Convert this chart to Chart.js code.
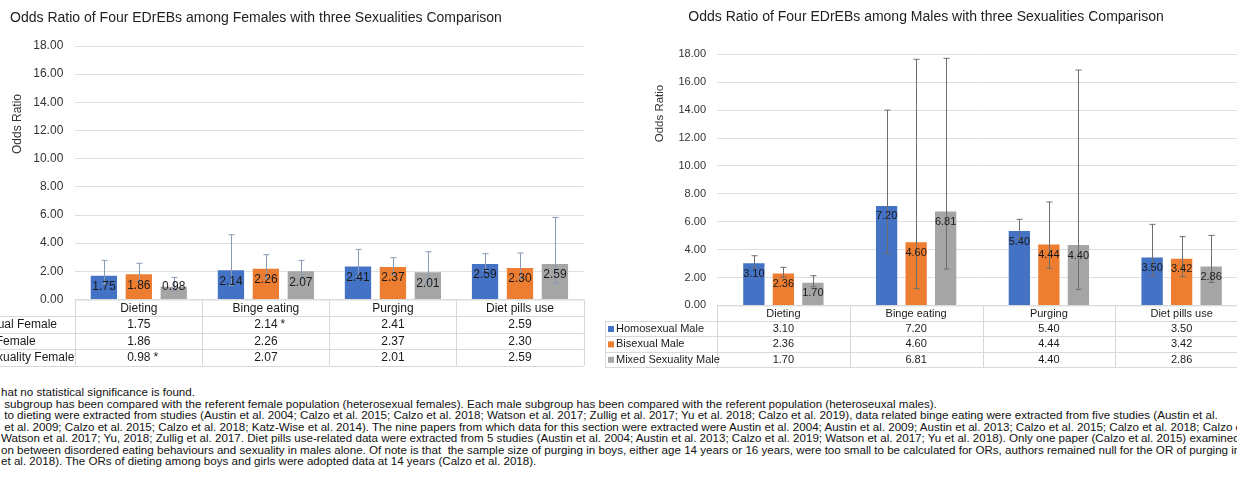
<!DOCTYPE html>
<html>
<head>
<meta charset="utf-8">
<script src="https://cdn.jsdelivr.net/npm/chart.js@4/dist/chart.umd.min.js"></script>
<style>
  html, body { margin: 0; padding: 0; background: #fff; }
  body { width: 1237px; height: 479px; overflow: hidden; position: relative; }
  canvas { position: absolute; top: 0; }
  #femaleChart { left: -80px; }
  #maleChart { left: 600px; }
  #notes {
    position: absolute; left: 1px; top: 386px; width: 1400px;
    font: 11.6px "Liberation Sans", Arial, sans-serif; line-height: 11.5px;
    color: #111; white-space: pre;
  }
</style>
</head>
<body>
<canvas id="femaleChart" width="680" height="380"></canvas>
<canvas id="maleChart" width="660" height="380"></canvas>
<div id="notes">hat no statistical significance is found.
 subgroup has been compared with the referent female population (heterosexual females). Each male subgroup has been compared with the referent population (heteroseuxal males).
 to dieting were extracted from studies (Austin et al. 2004; Calzo et al. 2015; Calzo et al. 2018; Watson et al. 2017; Zullig et al. 2017; Yu et al. 2018; Calzo et al. 2019), data related binge eating were extracted from five studies (Austin et al.
 et al. 2009; Calzo et al. 2015; Calzo et al. 2018; Katz-Wise et al. 2014). The nine papers from which data for this section were extracted were Austin et al. 2004; Austin et al. 2009; Austin et al. 2013; Calzo et al. 2015; Calzo et al. 2018; Calzo et al. 2019;
Watson et al. 2017; Yu, 2018; Zullig et al. 2017. Diet pills use-related data were extracted from 5 studies (Austin et al. 2004; Austin et al. 2013; Calzo et al. 2019; Watson et al. 2017; Yu et al. 2018). Only one paper (Calzo et al. 2015) examined the
on between disordered eating behaviours and sexuality in males alone. Of note is that  the sample size of purging in boys, either age 14 years or 16 years, were too small to be calculated for ORs, authors remained null for the OR of purging in boys (Calzo
et al. 2018). The ORs of dieting among boys and girls were adopted data at 14 years (Calzo et al. 2018).</div>
<script>
const FONT = '"Liberation Sans", Arial, sans-serif';
Chart.defaults.font.family = FONT;
Chart.defaults.color = '#333';

// categories and tick labels
const categories = ['Dieting', 'Binge eating', 'Purging', 'Diet pills use'];
const yTicks = [0, 2, 4, 6, 8, 10, 12, 14, 16, 18];

// females
const femaleNames = ['Homosexual Female', 'Bisexual Female', 'Mixed Sexuality Female'];
const femaleHomo = [1.75, 2.14, 2.41, 2.59];
const femaleBi = [1.86, 2.26, 2.37, 2.30];
const femaleMixed = [0.98, 2.07, 2.01, 2.59];
const femaleHomoHi = [2.78, 4.60, 3.56, 3.25];
const femaleHomoLo = [1.10, 1.00, 1.63, 2.06];
const femaleBiHi = [2.57, 3.18, 2.97, 3.30];
const femaleBiLo = [1.30, 1.50, 1.75, 1.50];
const femaleMixedHi = [1.57, 2.78, 3.39, 5.83];
const femaleMixedLo = [0.61, 1.45, 1.19, 1.15];
const femaleHomoMark = ['', '*', '', ''];
const femaleBiMark = ['', '', '', ''];
const femaleMixedMark = ['*', '', '', ''];

// males
const maleNames = ['Homosexual Male', 'Bisexual Male', 'Mixed Sexuality Male'];
const maleHomo = [3.10, 7.20, 5.40, 3.50];
const maleBi = [2.36, 4.60, 4.44, 3.42];
const maleMixed = [1.70, 6.81, 4.40, 2.86];
const maleHomoHi = [3.56, 14.00, 6.17, 5.81];
const maleHomoLo = [2.70, 3.73, 4.72, 2.11];
const maleBiHi = [2.73, 17.64, 7.41, 4.93];
const maleBiLo = [2.01, 1.20, 2.66, 2.06];
const maleMixedHi = [2.13, 17.71, 16.87, 5.02];
const maleMixedLo = [1.34, 2.61, 1.15, 1.65];

const BLUE = '#4472C4', ORANGE = '#ED7D31', GREY = '#A5A5A5';

// error bars, value labels, titles and the data table under the plot
const tablePlugin = {
  id: 'orTable',
  afterDatasetsDraw(chart, args, o) {
    const { ctx, chartArea: a, scales: { x, y } } = chart;
    const sets = chart.data.datasets;
    const n = chart.data.labels.length;
    const colW = (a.right - a.left) / n;
    ctx.save();

    // error bars
    ctx.strokeStyle = o.errColor;
    ctx.lineWidth = 1;
    sets.forEach((ds, i) => {
      chart.getDatasetMeta(i).data.forEach((bar, j) => {
        const hi = y.getPixelForValue(ds.upper[j]);
        const lo = y.getPixelForValue(ds.lower[j]);
        const cx = Math.round(bar.x) + 0.5;
        ctx.beginPath();
        ctx.moveTo(cx, hi); ctx.lineTo(cx, lo);
        ctx.moveTo(cx - o.cap, hi); ctx.lineTo(cx + o.cap, hi);
        ctx.moveTo(cx - o.cap, lo); ctx.lineTo(cx + o.cap, lo);
        ctx.stroke();
      });
    });

    // labels in the bars
    ctx.font = o.labelSize + 'px ' + FONT;
    ctx.fillStyle = '#1a1a1a';
    ctx.textAlign = 'center';
    ctx.textBaseline = 'middle';
    sets.forEach((ds, i) => {
      chart.getDatasetMeta(i).data.forEach((bar, j) => {
        const ly = Math.min(bar.y + o.labelDrop, bar.base - o.labelDrop);
        ctx.fillText(ds.data[j].toFixed(2), bar.x, ly);
      });
    });

    // table
    const top = a.bottom;
    const rh = o.rowH;
    const bottom = top + rh * (sets.length + 1);
    const legL = a.left - o.legendW;
    const left0 = x.getPixelForValue(0) - colW / 2;
    const right0 = x.getPixelForValue(n - 1) + colW / 2;
    ctx.strokeStyle = '#d9d9d9';
    ctx.beginPath();
    ctx.moveTo(left0, top + 0.5); ctx.lineTo(right0, top + 0.5);
    for (let k = 1; k <= sets.length + 1; k++) {
      const ly = Math.round(top + k * rh) + 0.5;
      ctx.moveTo(legL, ly); ctx.lineTo(right0, ly);
    }
    for (let j = 0; j <= n; j++) {
      const lx = Math.round(x.getPixelForValue(j) - colW / 2) + 0.5;
      ctx.moveTo(lx, top); ctx.lineTo(lx, bottom);
    }
    ctx.moveTo(Math.round(legL) + 0.5, top + rh); ctx.lineTo(Math.round(legL) + 0.5, bottom);
    ctx.stroke();

    ctx.font = o.tableSize + 'px ' + FONT;
    ctx.fillStyle = '#1a1a1a';
    chart.data.labels.forEach((c, j) => {
      ctx.fillText(c, x.getPixelForValue(j), top + rh / 2 + 0.5);
    });
    sets.forEach((ds, i) => {
      const ry = top + (i + 1.5) * rh + 0.5;
      ctx.fillStyle = ds.backgroundColor;
      ctx.fillRect(legL + 3, ry - 3, 6, 6);
      ctx.fillStyle = '#1a1a1a';
      ctx.textAlign = 'left';
      ctx.fillText(ds.label, legL + 11, ry);
      ctx.textAlign = 'center';
      ds.data.forEach((v, j) => {
        const txt = v.toFixed(2);
        const cx = x.getPixelForValue(j);
        ctx.fillText(txt, cx, ry);
        if (ds.marks && ds.marks[j]) {
          ctx.textAlign = 'left';
          ctx.fillText(ds.marks[j], cx + ctx.measureText(txt).width / 2 + o.markGap, ry);
          ctx.textAlign = 'center';
        }
      });
    });

    // chart title and axis title
    ctx.fillStyle = '#222';
    ctx.font = o.titleSize + 'px ' + FONT;
    ctx.fillText(o.title, o.titleX, o.titleY);
    ctx.translate(o.axisX, o.axisY);
    ctx.rotate(-Math.PI / 2);
    ctx.font = o.axisSize + 'px ' + FONT;
    ctx.fillStyle = '#333';
    ctx.fillText('Odds Ratio', 0, 0);
    ctx.restore();
  }
};

function makeChart(id, names, values, his, los, marks, p) {
  const colors = [BLUE, ORANGE, GREY];
  return new Chart(document.getElementById(id), {
    type: 'bar',
    data: {
      labels: categories,
      datasets: names.map((name, i) => ({
        label: name,
        data: values[i],
        upper: his[i],
        lower: los[i],
        marks: marks ? marks[i] : null,
        backgroundColor: colors[i],
        borderColor: 'rgba(255,255,255,0.35)',
        borderWidth: 1,
        categoryPercentage: p.cp,
        barPercentage: p.bp
      }))
    },
    options: {
      responsive: false,
      animation: false,
      layout: { padding: p.padding },
      plugins: {
        legend: { display: false },
        title: { display: false },
        tooltip: { enabled: false },
        orTable: p.table
      },
      scales: {
        x: { display: false },
        y: {
          min: 0,
          max: 18,
          afterBuildTicks: s => { s.ticks = yTicks.map(v => ({ value: v })); },
          afterFit: s => { s.width = p.axisW; },
          border: { display: false },
          grid: { color: '#dedede', drawTicks: false },
          ticks: {
            padding: p.tickPad,
            color: '#333',
            font: { size: p.tickSize },
            callback: v => v.toFixed(2)
          }
        }
      }
    },
    plugins: [tablePlugin]
  });
}

makeChart('femaleChart', femaleNames,
  [femaleHomo, femaleBi, femaleMixed],
  [femaleHomoHi, femaleBiHi, femaleMixedHi],
  [femaleHomoLo, femaleBiLo, femaleMixedLo],
  [femaleHomoMark, femaleBiMark, femaleMixedMark],
  {
    cp: 0.825, bp: 0.81,
    padding: { left: 0, right: 16.5, top: 46, bottom: 80.5 },
    axisW: 155.3, tickPad: 12, tickSize: 12,
    table: {
      errColor: '#8a9ab5', cap: 3, labelSize: 12, labelDrop: 12,
      rowH: 16.5, legendW: 139.3, tableSize: 12, markGap: 3,
      title: 'Odds Ratio of Four EDrEBs among Females with three Sexualities Comparison',
      titleX: 336, titleY: 18, titleSize: 14,
      axisX: 98, axisY: 124, axisSize: 12
    }
  });

makeChart('maleChart', maleNames,
  [maleHomo, maleBi, maleMixed],
  [maleHomoHi, maleBiHi, maleMixedHi],
  [maleHomoLo, maleBiLo, maleMixedLo],
  null,
  {
    cp: 0.667, bp: 0.79,
    padding: { left: 0, right: 12, top: 54.3, bottom: 74.6 },
    axisW: 117, tickPad: 11, tickSize: 11,
    table: {
      errColor: '#6e6e6e', cap: 3, labelSize: 11, labelDrop: 11.5,
      rowH: 15.4, legendW: 112, tableSize: 11, markGap: 3,
      title: 'Odds Ratio of Four EDrEBs among Males with three Sexualities Comparison',
      titleX: 326, titleY: 17, titleSize: 14,
      axisX: 59.5, axisY: 113.5, axisSize: 11.5
    }
  });
</script>
</body>
</html>
